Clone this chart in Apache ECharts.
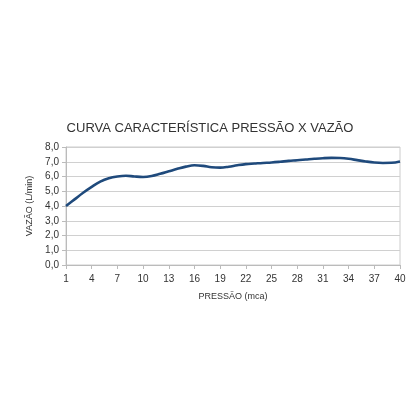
<!DOCTYPE html>
<html>
<head>
<meta charset="utf-8">
<script src="https://cdn.jsdelivr.net/npm/echarts@6/dist/echarts.min.js"></script>
<style>
html,body{margin:0;padding:0;background:#fff;}
#c{width:420px;height:420px;}
</style>
</head>
<body>
<div id="c"></div>
<script>
const pressure = ['1','2','3','4','5','6','7','8','9','10','11','12','13','14','15','16','17','18','19','20','21','22','23','24','25','26','27','28','29','30','31','32','33','34','35','36','37','38','39','40'];
const flow = [4.0,4.45,4.9,5.3,5.65,5.88,6.0,6.05,6.0,5.97,6.03,6.18,6.35,6.52,6.67,6.76,6.72,6.63,6.6,6.66,6.76,6.84,6.88,6.92,6.95,7.0,7.06,7.1,7.15,7.2,7.24,7.26,7.25,7.2,7.11,7.02,6.95,6.92,6.93,7.02];
const titleText = 'CURVA CARACTERÍSTICA PRESSÃO X VAZÃO';
const xName = 'PRESSÃO (mca)';
const yName = 'VAZÃO (L/min)';

const chart = echarts.init(document.getElementById('c'));
chart.setOption({
  animation: false,
  backgroundColor: '#fff',
  textStyle: {fontFamily: 'Liberation Sans, Arial, sans-serif'},
  title: {
    text: titleText,
    left: 'center',
    top: 117,
    textStyle: {fontSize: 13, fontWeight: 'normal', color: '#333', fontFamily: 'Liberation Sans, Arial, sans-serif'}
  },
  grid: {left: 66, right: 20, top: 147, bottom: 155, show: true, borderColor: '#ccc', borderWidth: 1},
  xAxis: {
    type: 'category',
    data: pressure,
    boundaryGap: false,
    name: xName,
    nameLocation: 'middle',
    nameGap: 27,
    nameTextStyle: {fontSize: 9, color: '#333'},
    axisLine: {lineStyle: {color: '#bbb'}},
    axisTick: {interval: 2, length: 4, lineStyle: {color: '#bbb'}},
    axisLabel: {interval: 2, fontSize: 10, color: '#333', margin: 9},
    splitLine: {show: false}
  },
  yAxis: {
    type: 'value',
    min: 0,
    max: 8,
    interval: 1,
    name: yName,
    nameLocation: 'middle',
    nameGap: 30,
    nameTextStyle: {fontSize: 9, color: '#333'},
    axisLine: {show: true, lineStyle: {color: '#bbb'}},
    axisTick: {show: true, length: 4, lineStyle: {color: '#bbb'}},
    axisLabel: {fontSize: 10, color: '#333', margin: 7, formatter: v => v.toFixed(1).replace('.', ',')},
    splitLine: {lineStyle: {color: '#d0d0d0'}}
  },
  series: [{
    type: 'line',
    data: flow,
    smooth: 0.4,
    symbol: 'none',
    lineStyle: {color: '#1f4a7c', width: 2.6}
  }]
});
</script>
</body>
</html>
